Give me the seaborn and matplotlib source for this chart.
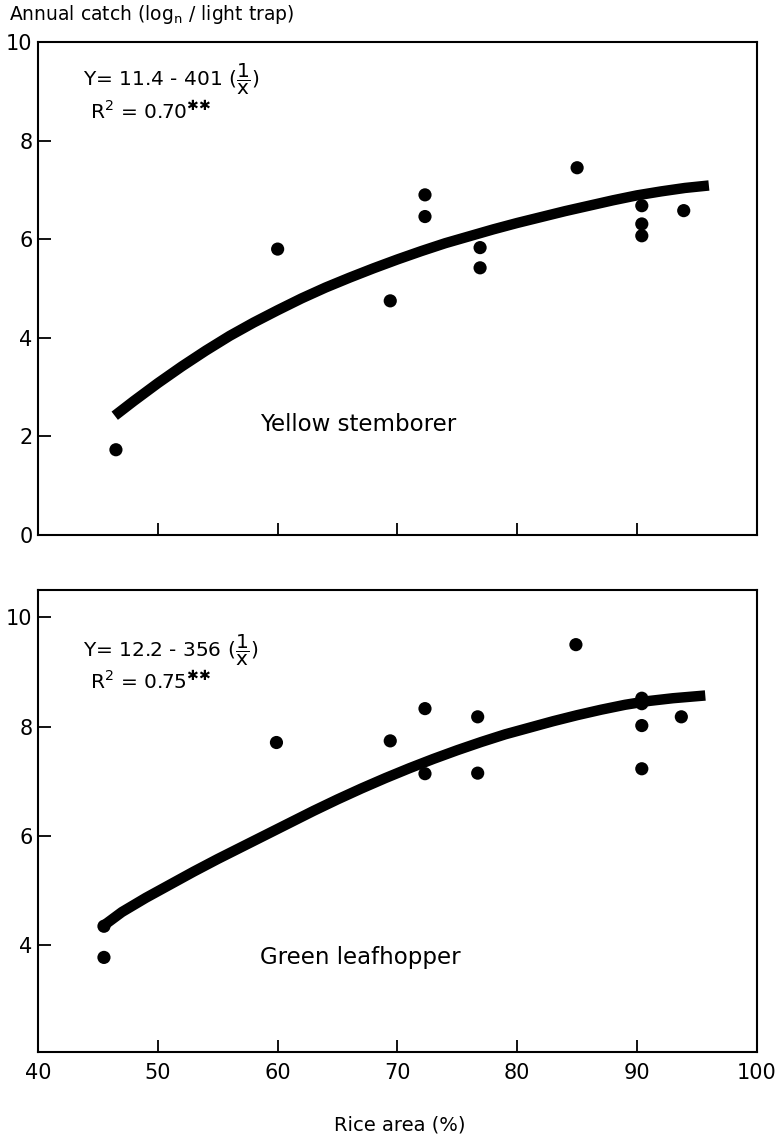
import numpy as np
import pandas as pd
import matplotlib
matplotlib.use("Agg")
import matplotlib.pyplot as plt
import seaborn as sns

# ---------------- data ----------------
ysb_x = [46.5, 60.0, 69.4, 72.3, 72.3, 76.9, 76.9, 85.0, 90.4, 90.4, 90.4, 93.9]
ysb_y = [1.73, 5.80, 4.75, 6.90, 6.46, 5.83, 5.42, 7.45, 6.68, 6.31, 6.07, 6.58]
ysb_curve_x = [46.4, 48, 50, 52, 54, 56, 58, 60, 62, 64, 66, 68, 70, 72, 74,
               76, 78, 80, 82, 84, 86, 88, 90, 92, 94, 96]
ysb_curve_y = [2.42, 2.72, 3.08, 3.42, 3.74, 4.04, 4.31, 4.56, 4.80, 5.02,
               5.22, 5.41, 5.59, 5.76, 5.92, 6.06, 6.20, 6.33, 6.45, 6.57,
               6.68, 6.79, 6.89, 6.97, 7.04, 7.09]

glh_x = [45.5, 45.5, 59.9, 69.4, 72.3, 72.3, 76.7, 76.7, 84.9, 90.4, 90.4, 90.4, 90.4, 93.7]
glh_y = [4.35, 3.78, 7.71, 7.74, 8.33, 7.14, 8.18, 7.15, 9.50, 8.52, 8.42, 8.02, 7.23, 8.18]
glh_curve_x = [45.4, 47, 49, 51, 53, 55, 57, 59, 61, 63, 65, 67, 69, 71, 73,
               75, 77, 79, 81, 83, 85, 87, 89, 91, 93, 95.7]
glh_curve_y = [4.35, 4.61, 4.87, 5.11, 5.35, 5.58, 5.80, 6.02, 6.24, 6.46,
               6.67, 6.87, 7.06, 7.24, 7.41, 7.57, 7.72, 7.86, 7.98, 8.10,
               8.21, 8.31, 8.40, 8.47, 8.52, 8.57]

x_ticks = [40, 50, 60, 70, 80, 90, 100]
top_yticks = [0, 2, 4, 6, 8, 10]
bot_yticks = [4, 6, 8, 10]

top_eq = r"Y= 11.4 - 401 $(\dfrac{1}{\mathrm{x}})$"
top_r2 = r"R$^2$ = 0.70$^{✱✱}$"
bot_eq = r"Y= 12.2 - 356 $(\dfrac{1}{\mathrm{x}})$"
bot_r2 = r"R$^2$ = 0.75$^{✱✱}$"

# ---------------- style ----------------
sns.set_style("ticks")
plt.rcParams["font.family"] = ["DejaVu Sans"]
plt.rcParams["mathtext.fontset"] = "dejavusans"
for k in ["text.color", "axes.labelcolor", "xtick.color", "ytick.color", "axes.edgecolor"]:
    plt.rcParams[k] = "black"

fig = plt.figure(figsize=(7.77, 11.42), dpi=100)
ax1 = fig.add_axes([0.049, 0.5315, 0.925, 0.4317])
ax2 = fig.add_axes([0.049, 0.0788, 0.925, 0.4046])

def style_axes(ax, yticks, ylim, show_xlabels):
    ax.set_xlim(40, 100)
    ax.set_ylim(*ylim)
    ax.set_xticks(x_ticks)
    ax.set_yticks(yticks)
    ax.tick_params(direction="in", length=9, width=1.3, colors="black",
                   labelsize=15, pad=4)
    if not show_xlabels:
        ax.tick_params(axis="x", labelbottom=False)
    else:
        ax.tick_params(axis="x", pad=8)
    for s in ax.spines.values():
        s.set_visible(True)
        s.set_color("black")
        s.set_linewidth(1.5)
    ax.set_xlabel("")
    ax.set_ylabel("")

# top panel
df1 = pd.DataFrame({"x": ysb_x, "y": ysb_y})
c1 = pd.DataFrame({"x": ysb_curve_x, "y": ysb_curve_y})
sns.lineplot(data=c1, x="x", y="y", ax=ax1, color="black", lw=7.5,
             solid_capstyle="butt", solid_joinstyle="round", sort=True, estimator=None)
sns.scatterplot(data=df1, x="x", y="y", ax=ax1, color="black", s=90,
                edgecolor="none", zorder=3)
style_axes(ax1, top_yticks, (0, 10), False)
ax1.text(0.062, 0.925, top_eq, transform=ax1.transAxes, fontsize=14.5,
         ha="left", va="center")
ax1.text(0.072, 0.858, top_r2, transform=ax1.transAxes, fontsize=14.5,
         ha="left", va="center")
ax1.text(58.5, 2.25, "Yellow stemborer", fontsize=16.5, ha="left", va="center")

# bottom panel
df2 = pd.DataFrame({"x": glh_x, "y": glh_y})
c2 = pd.DataFrame({"x": glh_curve_x, "y": glh_curve_y})
sns.lineplot(data=c2, x="x", y="y", ax=ax2, color="black", lw=7.5,
             solid_capstyle="butt", solid_joinstyle="round", sort=True, estimator=None)
sns.scatterplot(data=df2, x="x", y="y", ax=ax2, color="black", s=90,
                edgecolor="none", zorder=3)
style_axes(ax2, bot_yticks, (2.05, 10.5), True)
ax2.text(0.062, 0.870, bot_eq, transform=ax2.transAxes, fontsize=14.5,
         ha="left", va="center")
ax2.text(0.072, 0.800, bot_r2, transform=ax2.transAxes, fontsize=14.5,
         ha="left", va="center")
ax2.text(58.5, 3.78, "Green leafhopper", fontsize=16.5, ha="left", va="center")

fig.text(0.012, 0.987, r"Annual catch (log$_{\mathregular{n}}$ / light trap)",
         fontsize=13.5, ha="left", va="center")
fig.text(0.515, 0.015, "Rice area (%)", fontsize=14, ha="center", va="center")

fig.savefig("out.png", dpi=100)
